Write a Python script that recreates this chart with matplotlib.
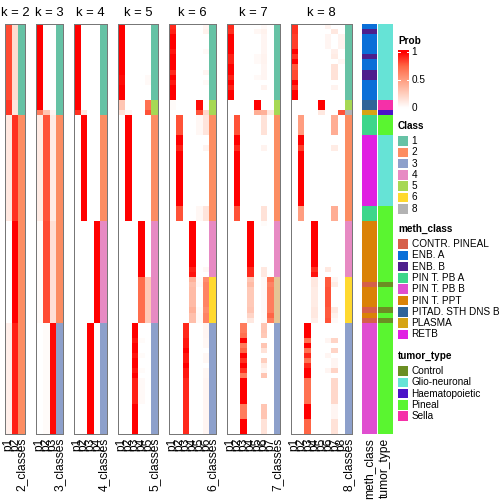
import numpy as np
import matplotlib
matplotlib.use('Agg')
import matplotlib.pyplot as plt
from matplotlib.colors import LinearSegmentedColormap, to_rgb
from matplotlib.patches import Rectangle

plt.rcParams['font.family'] = ['Liberation Sans', 'DejaVu Sans']

# membership probabilities, as (number of rows, [p1 .. pk]) runs, top to bottom
prob_k2 = [(15, [0.82, 0.18]), (3, [0.86, 0.14]), (21, [0.12, 0.88]),
           (20, [0.0, 1.0]), (22, [0.08, 0.92])]

prob_k3 = [(17, [1.0, 0, 0]), (1, [0.65, 0.30, 0.05]), (21, [0.10, 0.80, 0.10]),
           (20, [0.02, 0.82, 0.16]), (22, [0, 0.02, 0.98])]

prob_k4 = [(17, [1, 0, 0, 0]), (1, [0.88, 0.12, 0, 0]), (21, [0, 1, 0, 0]),
           (20, [0, 0, 0, 1]), (22, [0, 0, 1, 0])]

prob_k5 = [(10, [1, 0, 0, 0, 0]), (2, [0.97, 0, 0, 0, 0.03]), (3, [1, 0, 0, 0, 0]),
           (2, [0.30, 0, 0, 0, 0.70]), (1, [0.15, 0.05, 0, 0, 0.80]),
           (21, [0, 1, 0, 0, 0]), (11, [0, 0, 0, 1, 0]), (9, [0, 0, 0, 0.72, 0.28]),
           (3, [0, 0, 1, 0, 0]), (1, [0, 0, 0.95, 0.02, 0]), (2, [0, 0, 1, 0, 0]),
           (1, [0, 0, 0.95, 0.02, 0]), (2, [0, 0, 1, 0, 0]), (1, [0, 0, 0.95, 0.02, 0]),
           (1, [0, 0, 1, 0, 0]), (5, [0, 0, 0.92, 0.03, 0]), (6, [0, 0, 1, 0, 0])]

prob_k6 = [(1, [0.90, 0, 0, 0, 0, 0.05]), (1, [0.92, 0, 0, 0, 0, 0.07]),
           (3, [1, 0, 0, 0, 0, 0]), (1, [0.95, 0, 0, 0, 0, 0.03]),
           (3, [1, 0, 0, 0, 0, 0]), (1, [0.90, 0, 0, 0, 0, 0.05]),
           (1, [1, 0, 0, 0, 0, 0]), (1, [0.94, 0, 0, 0, 0, 0.03]),
           (3, [1, 0, 0, 0, 0, 0]),
           (2, [0.02, 0, 0, 0, 0.97, 0]), (1, [0, 0, 0, 0, 0.80, 0.20]),
           (4, [0, 0.80, 0, 0, 0.04, 0.14]), (2, [0, 1, 0, 0, 0, 0]),
           (1, [0, 0.92, 0, 0, 0, 0.06]), (11, [0, 1, 0, 0, 0, 0]),
           (3, [0, 0.80, 0, 0, 0.04, 0.14]),
           (9, [0, 0, 0, 1, 0, 0]), (1, [0, 0, 0, 0.92, 0, 0.04]), (1, [0, 0, 0, 0.95, 0, 0]),
           (1, [0, 0, 0, 0.40, 0.02, 0.58]), (1, [0, 0, 0, 0.33, 0.03, 0.62]),
           (4, [0, 0, 0, 0.35, 0, 0.62]), (1, [0, 0, 0, 0.40, 0.02, 0.58]),
           (2, [0, 0, 0, 0.33, 0.03, 0.62]),
           (3, [0, 0, 0.90, 0, 0, 0.05]), (2, [0, 0, 0.94, 0, 0, 0.04]),
           (1, [0, 0, 1, 0, 0, 0]), (2, [0, 0, 0.94, 0, 0, 0.04]),
           (1, [0, 0, 1, 0, 0, 0]), (2, [0, 0, 0.94, 0, 0, 0.04]),
           (11, [0, 0, 0.90, 0, 0, 0.05])]

prob_k7 = [(1, [0.90, 0, 0, 0, 0, 0.03, 0]), (1, [0.88, 0, 0, 0, 0.04, 0.07, 0]),
           (4, [1, 0, 0, 0, 0, 0.05, 0]), (2, [0.92, 0, 0, 0, 0.03, 0.06, 0]),
           (2, [1, 0, 0, 0, 0, 0.05, 0]), (1, [0.92, 0, 0, 0, 0.03, 0.05, 0]),
           (1, [1, 0, 0, 0, 0, 0, 0]), (1, [0.92, 0, 0, 0, 0, 0.06, 0]),
           (2, [1, 0, 0, 0, 0, 0, 0]),
           (2, [0, 0, 0, 0, 1, 0, 0]), (1, [0, 0, 0, 0, 0.42, 0.40, 0.12]),
           (4, [0, 0.80, 0, 0, 0, 0.15, 0]), (2, [0, 1, 0, 0, 0, 0, 0]),
           (1, [0, 0.90, 0, 0, 0, 0.06, 0]), (11, [0, 1, 0, 0, 0, 0, 0]),
           (3, [0, 0.80, 0, 0, 0, 0.15, 0]),
           (1, [0, 0, 0, 1, 0, 0.02, 0]), (8, [0, 0, 0, 1, 0, 0, 0]),
           (2, [0, 0, 0, 0.90, 0, 0.12, 0]),
           (1, [0, 0, 0, 0.30, 0, 0.03, 0.70]), (1, [0, 0, 0, 0.35, 0, 0.03, 0.62]),
           (4, [0, 0, 0, 0.28, 0, 0.03, 0.65]), (1, [0, 0, 0, 0.30, 0, 0.03, 0.65]),
           (1, [0, 0, 0, 0.22, 0, 0.02, 0.75]), (1, [0, 0, 0, 0.12, 0, 0.02, 0.65]),
           (2, [0, 0, 0.65, 0, 0, 0.30, 0]), (1, [0, 0, 0.70, 0, 0, 0.28, 0]),
           (1, [0, 0, 1, 0, 0, 0, 0]), (1, [0, 0, 0.65, 0, 0, 0.30, 0]),
           (1, [0, 0, 0.75, 0, 0, 0.15, 0]), (1, [0, 0, 1, 0, 0, 0, 0]),
           (1, [0, 0, 0.88, 0, 0, 0.25, 0]), (1, [0, 0, 1, 0, 0, 0.10, 0]),
           (1, [0, 0, 0.88, 0, 0, 0.05, 0]), (1, [0, 0, 0.65, 0, 0, 0.30, 0]),
           (5, [0, 0, 1, 0, 0, 0, 0]), (3, [0, 0, 0.65, 0, 0, 0.30, 0]),
           (3, [0, 0, 1, 0, 0, 0.15, 0])]

prob_k8 = [(1, [0.88, 0, 0, 0, 0, 0.06, 0, 0]), (1, [0.88, 0, 0, 0, 0, 0, 0.12, 0]),
           (3, [0.85, 0, 0, 0, 0, 0.05, 0, 0.06]), (1, [1, 0, 0, 0, 0, 0, 0.08, 0]),
           (1, [0.88, 0, 0, 0, 0, 0, 0.10, 0]), (1, [1, 0, 0, 0, 0, 0, 0, 0.04]),
           (1, [0.78, 0, 0, 0, 0, 0, 0.15, 0]), (2, [0.82, 0, 0, 0, 0, 0, 0.15, 0]),
           (1, [1, 0, 0, 0, 0, 0, 0, 0]), (1, [0.88, 0, 0, 0, 0, 0, 0.06, 0]),
           (2, [1, 0, 0, 0, 0, 0, 0, 0]),
           (2, [0, 0, 0, 0, 1, 0, 0, 0]), (1, [0, 0, 0, 0, 0.12, 0, 0, 0.80]),
           (4, [0, 0.50, 0, 0, 0, 0, 0.42, 0]), (2, [0, 1, 0, 0, 0, 0, 0, 0]),
           (1, [0, 0.85, 0, 0, 0, 0, 0.10, 0]), (11, [0, 1, 0, 0, 0, 0, 0, 0]),
           (3, [0, 0.50, 0, 0, 0, 0, 0.42, 0]),
           (9, [0, 0, 0, 1, 0, 0, 0, 0]), (1, [0, 0, 0, 0.88, 0, 0.12, 0, 0]),
           (1, [0, 0, 0, 0.95, 0, 0, 0, 0]),
           (1, [0, 0, 0, 0.12, 0, 0.78, 0.05, 0]), (1, [0, 0, 0, 0.12, 0, 0.78, 0.10, 0]),
           (4, [0, 0, 0, 0.10, 0, 0.80, 0, 0]), (1, [0, 0, 0, 0.12, 0, 0.78, 0.12, 0]),
           (1, [0, 0, 0, 0.12, 0, 0.78, 0.07, 0]), (1, [0, 0, 0, 0.08, 0, 0.80, 0.03, 0]),
           (3, [0, 0, 1, 0, 0, 0, 0, 0]), (1, [0, 0, 0.70, 0, 0, 0.05, 0.22, 0]),
           (1, [0, 0, 1, 0, 0, 0, 0, 0]), (1, [0, 0, 0.70, 0, 0, 0, 0.22, 0]),
           (1, [0, 0, 0.90, 0, 0, 0.05, 0, 0]), (1, [0, 0, 0.70, 0, 0, 0, 0.05, 0]),
           (1, [0, 0, 0.90, 0, 0, 0, 0.05, 0]), (1, [0, 0, 1, 0, 0, 0.05, 0.22, 0]),
           (1, [0, 0, 1, 0, 0, 0, 0, 0]), (5, [0, 0, 0.70, 0, 0, 0, 0.20, 0]),
           (3, [0, 0, 1, 0, 0, 0, 0.05, 0]), (3, [0, 0, 0.75, 0, 0, 0, 0.15, 0])]

probs = {2: prob_k2, 3: prob_k3, 4: prob_k4, 5: prob_k5, 6: prob_k6, 7: prob_k7, 8: prob_k8}

# sample annotations, as (label, number of rows) runs
meth_class = [('ENB. A', 1), ('ENB. B', 1), ('ENB. A', 4), ('ENB. B', 1), ('ENB. A', 2),
              ('ENB. B', 2), ('ENB. A', 4), ('PITAD. STH DNS B', 2), ('PLASMA', 1),
              ('PIN T. PB A', 4), ('RETB', 14), ('PIN T. PB A', 3), ('PIN T. PPT', 12),
              ('CONTR. PINEAL', 1), ('PIN T. PPT', 4), ('CONTR. PINEAL', 1), ('PIN T. PPT', 1),
              ('CONTR. PINEAL', 1), ('PIN T. PB B', 22)]
tumor_type = [('Glio-neuronal', 15), ('Sella', 2), ('Haematopoietic', 1), ('Pineal', 4),
              ('Glio-neuronal', 14), ('Pineal', 15), ('Control', 1), ('Pineal', 4),
              ('Control', 1), ('Pineal', 1), ('Control', 1), ('Pineal', 22)]

class_colors = {1: '#66C2A5', 2: '#FC8D62', 3: '#8DA0CB', 4: '#E78AC3',
                5: '#A6D854', 6: '#FFD92F', 7: '#E5C494', 8: '#B3B3B3'}
class_legend = [1, 2, 3, 4, 5, 6, 8]
meth_colors = {'CONTR. PINEAL': '#D65F4A', 'ENB. A': '#0A6FD8', 'ENB. B': '#4D1F8C',
               'PIN T. PB A': '#3DD68A', 'PIN T. PB B': '#E04ED0', 'PIN T. PPT': '#DA8207',
               'PITAD. STH DNS B': '#2F6499', 'PLASMA': '#D6A413', 'RETB': '#E020E2'}
tumor_colors = {'Control': '#6B8E23', 'Glio-neuronal': '#66E3D6', 'Haematopoietic': '#4A12C8',
                'Pineal': '#5AF530', 'Sella': '#F530A8'}

prob_cmap = LinearSegmentedColormap.from_list(
    'prob', [(0, '#FFFFFF'), (0.25, '#FFCFBF'), (0.5, '#FF9E81'), (0.75, '#FF6746'), (1, '#FF0000')])


def expand(segs):
    rows = []
    for n, vals in segs:
        rows += [vals] * n
    return np.array(rows, dtype=float)


def expand_labels(segs):
    out = []
    for lab, n in segs:
        out += [lab] * n
    return out


W = H = 504
fig = plt.figure(figsize=(7, 7), dpi=72)


def px_axes(x, y, w, h):
    return fig.add_axes([x / W, 1 - (y + h) / H, w / W, h / H])


top, hm_h = 24, 410
cw, gap = 6.71, 10.8

leg = fig.add_axes([0, 0, 1, 1])
leg.set_xlim(0, W)
leg.set_ylim(H, 0)
leg.axis('off')

x = 5
for k, segs in probs.items():
    p = expand(segs)
    n = p.shape[0]
    cls = p.argmax(axis=1) + 1
    ax = px_axes(x, top, (k + 1) * cw, hm_h)
    ax.imshow(p, cmap=prob_cmap, vmin=0, vmax=1, aspect='auto',
              interpolation='nearest', extent=(0, k, n, 0))
    rgb = np.array([to_rgb(class_colors[c]) for c in cls]).reshape(n, 1, 3)
    ax.imshow(rgb, aspect='auto', interpolation='nearest', extent=(k, k + 1, n, 0))
    ax.set_xlim(0, k + 1)
    ax.set_ylim(n, 0)
    ax.set_xticks([])
    ax.set_yticks([])
    for sp in ax.spines.values():
        sp.set_color('#777777')
        sp.set_linewidth(1)
    leg.text(x + (k + 1) * cw / 2, 15.7, f'k = {k}', ha='center', va='baseline', fontsize=13)
    labels = [f'p{i + 1}' for i in range(k)] + [f'{k}_classes']
    for j, lab in enumerate(labels):
        leg.text(x + (j + 0.5) * cw, 438, lab, rotation=90, ha='center', va='top', fontsize=12)
    x += (k + 1) * cw + gap

# annotation columns
ann_w = 14.2
for i, (name, segs, cols) in enumerate([('meth_class', meth_class, meth_colors),
                                         ('tumor_type', tumor_type, tumor_colors)]):
    labs = expand_labels(segs)
    ax = px_axes(x, top, ann_w, hm_h)
    rgb = np.array([to_rgb(cols[l]) for l in labs]).reshape(len(labs), 1, 3)
    ax.imshow(rgb, aspect='auto', interpolation='nearest')
    ax.axis('off')
    leg.text(x + ann_w / 2, 438, name, rotation=90, ha='center', va='top', fontsize=12)
    x += ann_w + 1.2

# legends
lx = 398
leg.text(lx, 41.5, 'Prob', fontsize=10, fontweight='bold', va='center')
cax = px_axes(lx, 50, 11, 60)
lo, hi = -2 / 56, 1 + 2 / 56
grad = np.clip(np.linspace(lo, hi, 256), 0, 1).reshape(-1, 1)
cax.imshow(grad, cmap=prob_cmap, vmin=0, vmax=1, origin='lower', aspect='auto',
           extent=(0, 1, lo, hi))
for v in (0.5, 1):
    cax.plot([0, 0.2], [v, v], color='white', lw=1)
    cax.plot([0.8, 1], [v, v], color='white', lw=1)
cax.set_xlim(0, 1)
cax.set_ylim(lo, hi)
cax.axis('off')
for v, lab in [(1, '1'), (0.5, '0.5'), (0, '0')]:
    leg.text(411.5, 108 - v * 56, lab, fontsize=10, va='center')

step = 11.3
box = 9.6


def draw_legend(title, ty, items, colors):
    leg.text(lx, ty, title, fontsize=10, fontweight='bold', va='center')
    for i, it in enumerate(items):
        yc = ty + 15 + i * step
        leg.add_patch(Rectangle((lx, yc - box / 2), 10, box, facecolor=colors[it], edgecolor='none'))
        leg.text(411.5, yc, str(it), fontsize=10, va='center')


draw_legend('Class', 126, class_legend, class_colors)
draw_legend('meth_class', 229, list(meth_colors.keys()), meth_colors)
draw_legend('tumor_type', 356, list(tumor_colors.keys()), tumor_colors)

fig.savefig('out.png', dpi=72)
